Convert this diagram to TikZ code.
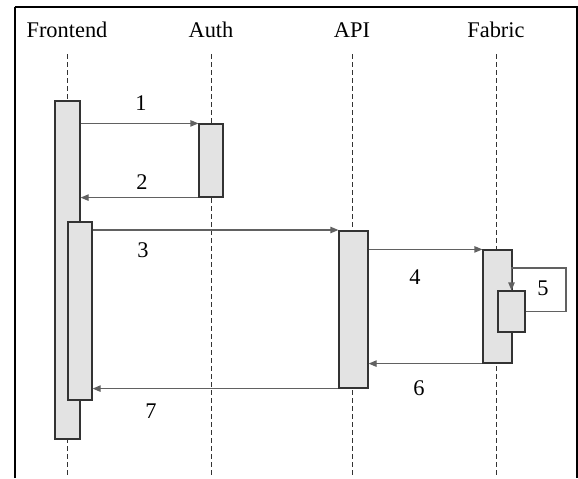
\documentclass[tikz,border=0pt]{standalone}
\usepackage{fontspec}
\setmainfont{Liberation Serif}
\usetikzlibrary{arrows.meta}
\tikzset{
  lifeline/.style={draw=black!80, line width=0.5pt, dash pattern=on 2.5pt off 1.5pt},
  actbox/.style={draw=black!80, fill=black!11, line width=0.6pt, rectangle, inner sep=0pt},
  msg/.style={draw=black!62, line width=0.6pt, -{Triangle[length=4pt,width=3.2pt]}},
  lbl/.style={font=\fontsize{11.2}{13}\selectfont, inner sep=0pt}
}
\begin{document}
\begin{tikzpicture}[x=0.5pt, y=-0.5pt]
    \useasboundingbox (0,0) rectangle (578,478);
    \draw[line width=1pt] (15,478) -- (15,7);
    \draw[line width=0.7pt] (14.5,7) -- (577,7) -- (577,478);
    \node[lbl, anchor=base] (hfe) at (67,37) {Frontend};
    \node[lbl, anchor=base] (hau) at (211,37) {Auth};
    \node[lbl, anchor=base] (hapi) at (352,37) {API};
    \node[lbl, anchor=base] (hfab) at (496,37) {Fabric};
    \coordinate (bfe) at (67,478);
    \coordinate (bau) at (211,478);
    \coordinate (bapi) at (352,478);
    \coordinate (bfab) at (496,478);
    \draw[lifeline] (67,54) -- (bfe);
    \draw[lifeline] (211,54) -- (bau);
    \draw[lifeline] (352,54) -- (bapi);
    \draw[lifeline] (496,54) -- (bfab);
    \node[actbox, minimum width=12.5pt, minimum height=169pt] (fe) at (67.5,270) {};
    \node[actbox, minimum width=12pt, minimum height=89pt] (fe2) at (80,311) {};
    \node[actbox, minimum width=12pt, minimum height=36.5pt] (au) at (211,160.5) {};
    \node[actbox, minimum width=14.5pt, minimum height=78.5pt] (api) at (353.5,309.5) {};
    \node[actbox, minimum width=14.5pt, minimum height=56.5pt] (fab) at (497.5,306.5) {};
    \node[actbox, minimum width=13.5pt, minimum height=20.5pt] (fab2) at (511.5,311.5) {};
    \draw[msg] (au.north west -| fe.east) -- (au.north west);
    \draw[msg] (au.south west) -- (au.south west -| fe.east);
    \draw[msg] (fe2.east |- 0,230) -- (api.west |- 0,230);
    \draw[msg] (api.north east |- fab.north) -- (fab.north west);
    \coordinate (loop) at (566,268);
    \draw[msg] (fab2.east) -- (fab2.east -| loop) -- (loop) -- (loop -| fab2.north) -- (fab2.north);
    \draw[msg] (fab.south west) -- (fab.south west -| api.east);
    \draw[msg] (api.south west) -- (api.south west -| fe2.east);
    \node[lbl] (m1) at (141,103) {1};
    \node[lbl] (m2) at (142,182) {2};
    \node[lbl] (m3) at (143,250) {3};
    \node[lbl] (m4) at (415,277) {4};
    \node[lbl] (m5) at (543,288) {5};
    \node[lbl] (m6) at (419,388) {6};
    \node[lbl] (m7) at (151,411) {7};
\end{tikzpicture}
\end{document}
